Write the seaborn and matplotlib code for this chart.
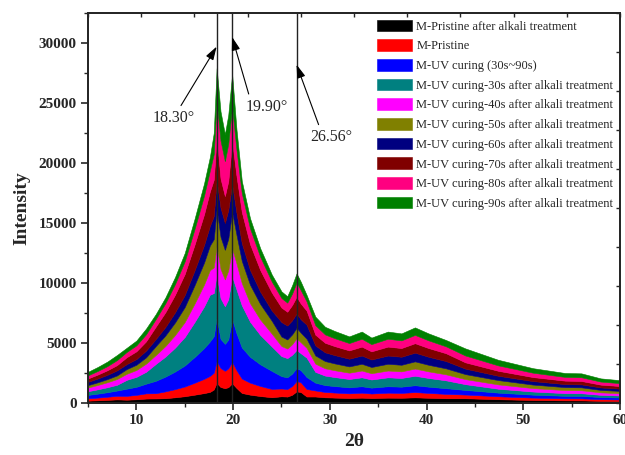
import numpy as np
import pandas as pd
import matplotlib
matplotlib.use("Agg")
import matplotlib.pyplot as plt
import seaborn as sns

# ---------------- data ----------------
two_theta = [5, 6, 7, 8, 9, 10, 11, 12, 13, 14, 15, 16, 17, 17.6, 18.0, 18.3, 18.7, 19.15, 19.5, 19.9,
             20.35, 20.9, 21.75, 22.8, 24, 25, 25.6, 26.1, 26.56, 27.0, 27.6, 28.5, 29.5, 30.5, 32, 33.3,
             34.3, 36, 37.4, 38.8, 40.2, 42, 44, 47.4, 51, 54.3, 56, 58, 60]

pristine_alkali = [195, 225, 260, 300, 275, 310, 370, 380, 400, 475, 565, 690, 825, 925, 1125, 1675, 1335, 1230, 1320, 1645,
                   1255, 835, 695, 580, 480, 560, 535, 685, 970, 910, 540, 540, 475, 450, 415, 445, 410, 445, 435, 470,
                   435, 395, 395, 315, 250, 220, 215, 180, 165]
pristine = [195, 225, 260, 300, 320, 365, 435, 435, 570, 680, 810, 995, 1190, 1335, 1395, 1815, 1580, 1455, 1560, 1780,
            1480, 1200, 1000, 840, 695, 650, 625, 735, 865, 810, 630, 505, 445, 420, 390, 415, 380, 415, 405, 440,
            405, 365, 310, 245, 200, 170, 170, 140, 130]
uv_curing = [285, 330, 380, 440, 600, 675, 805, 1035, 1230, 1470, 1750, 2140, 2560, 2870, 3040, 3625, 2430, 2240, 2400, 3560,
             3080, 2590, 2155, 1805, 1500, 1025, 980, 1030, 1080, 1010, 990, 650, 570, 540, 500, 535, 490, 535, 520, 570,
             520, 475, 385, 305, 245, 210, 210, 175, 160]
uv30 = [310, 360, 415, 480, 735, 830, 990, 1405, 1670, 1995, 2375, 2905, 3475, 3895, 3600, 3625, 3400, 3135, 3360, 3560,
        3650, 3515, 2925, 2450, 2035, 1675, 1600, 1570, 1510, 1415, 1620, 900, 795, 750, 695, 745, 680, 745, 725, 790,
        725, 655, 480, 325, 260, 225, 220, 185, 170]
uv40 = [310, 360, 415, 480, 505, 570, 680, 740, 880, 1050, 1250, 1530, 1830, 2050, 2140, 2370, 2430, 2240, 2400, 2330,
        2165, 1850, 1540, 1290, 1070, 835, 800, 880, 970, 910, 810, 685, 605, 570, 525, 565, 520, 565, 550, 600,
        550, 500, 420, 360, 290, 250, 245, 205, 190]
uv50 = [195, 225, 260, 300, 390, 440, 525, 740, 880, 1050, 1250, 1530, 1830, 2050, 2360, 3070, 2675, 2465, 2640, 3015,
        2395, 1850, 1540, 1290, 1070, 790, 755, 815, 865, 805, 765, 685, 605, 570, 525, 565, 520, 565, 550, 600,
        550, 500, 420, 360, 290, 250, 245, 205, 190]
uv60 = [275, 315, 360, 420, 415, 470, 560, 590, 705, 840, 1000, 1225, 1465, 1640, 1910, 2370, 2430, 2240, 2400, 2330,
        1825, 1480, 1230, 1030, 855, 1210, 1155, 1175, 1190, 1110, 1170, 830, 730, 690, 640, 685, 625, 685, 670, 725,
        670, 605, 455, 360, 290, 250, 245, 205, 190]
uv70 = [285, 330, 380, 440, 575, 650, 775, 1035, 1230, 1470, 1750, 2140, 2560, 2870, 3040, 3625, 2430, 2240, 2400, 3560,
        3080, 2590, 2155, 1805, 1500, 1210, 1155, 1275, 1405, 1315, 1170, 900, 795, 750, 695, 745, 680, 745, 725, 790,
        725, 655, 525, 415, 335, 290, 285, 235, 220]
uv80 = [260, 300, 345, 420, 440, 495, 590, 630, 750, 890, 1060, 1300, 1555, 1740, 2135, 2930, 3160, 2910, 3120, 2875,
        2165, 1570, 1310, 1100, 910, 790, 760, 950, 1190, 1110, 765, 790, 695, 660, 610, 655, 600, 655, 640, 690,
        640, 575, 570, 450, 365, 310, 310, 255, 240]
uv90 = [290, 330, 375, 420, 345, 395, 470, 410, 485, 580, 690, 845, 1010, 1125, 1755, 2795, 2430, 2245, 2400, 2745,
        1705, 1020, 850, 710, 585, 555, 535, 685, 755, 705, 540, 715, 635, 600, 555, 595, 545, 595, 580, 625,
        580, 525, 590, 465, 375, 325, 325, 265, 245]

labels = ["M-Pristine after alkali treatment", "M-Pristine", "M-UV curing (30s~90s)",
          "M-UV curing-30s after alkali treatment", "M-UV curing-40s after alkali treatment",
          "M-UV curing-50s after alkali treatment", "M-UV curing-60s after alkali treatment",
          "M-UV curing-70s after alkali treatment", "M-UV curing-80s after alkali treatment",
          "M-UV curing-90s after alkali treatment"]
colors = ["#000000", "#FF0000", "#0000FF", "#008080", "#FF00FF",
          "#808000", "#000080", "#800000", "#FF0080", "#008000"]

peak_positions = [18.30, 19.90, 26.56]
peak_labels = ["18.30°", "19.90°", "26.56°"]
x_ticks = [10, 20, 30, 40, 50, 60]
y_ticks = [0, 5000, 10000, 15000, 20000, 25000, 30000]

series = [pristine_alkali, pristine, uv_curing, uv30, uv40, uv50, uv60, uv70, uv80, uv90]
df = pd.DataFrame({"two_theta": two_theta, **{lab: s for lab, s in zip(labels, series)}})

# ---------------- style ----------------
sns.set_style("ticks")
plt.rcParams["font.family"] = ["Liberation Serif", "DejaVu Serif"]
plt.rcParams["axes.linewidth"] = 1.2
plt.rcParams["xtick.major.width"] = 1.2
plt.rcParams["ytick.major.width"] = 1.2
plt.rcParams["xtick.minor.width"] = 1.0
plt.rcParams["ytick.minor.width"] = 1.0

fig = plt.figure(figsize=(6.25, 4.55), dpi=100)
ax = fig.add_axes([0.1408, 0.1143, 0.8512, 0.8571])

polys = ax.stackplot(df["two_theta"], *[df[l] for l in labels], colors=colors, labels=labels)
for pc, c in zip(polys, colors):
    pc.set_edgecolor(c)
    pc.set_linewidth(0.4)

ax.set_xlim(5, 60)
ax.set_ylim(0, 32500)

for xp in peak_positions:
    ax.axvline(xp, color="#222222", lw=1.0, zorder=5)

ann = [((18.30, 29700), (13.9, 23750), (0.6, 1.0)),
       ((19.90, 30500), (23.5, 24700), (0.1, 1.0)),
       ((26.56, 28200), (30.1, 22150), (0.25, 1.0))]
for lab, (xy, xt, rp) in zip(peak_labels, ann):
    ax.annotate(lab, xy=xy, xytext=xt, ha="center", va="center", fontsize=11.5,
                arrowprops=dict(arrowstyle="-|>,head_length=0.7,head_width=0.22", color="black",
                                lw=0.8, relpos=rp, shrinkA=1, shrinkB=0), zorder=6)

ax.set_xticks(x_ticks)
ax.set_xticks(np.arange(5, 61, 5), minor=True)
ax.set_yticks(y_ticks)
ax.set_yticks(np.arange(0, 32501, 2500), minor=True)
ax.tick_params(axis="both", which="major", direction="out", length=5, labelsize=11, pad=3)
ax.tick_params(axis="both", which="minor", direction="out", length=3)
for t in ax.get_xticklabels() + ax.get_yticklabels():
    t.set_fontweight("bold")

ax.set_xlabel("2θ", fontsize=14, fontweight="bold", labelpad=4)
ax.set_ylabel("Intensity", fontsize=14, fontweight="bold", labelpad=6)

# top / right inward ticks
axt = ax.twiny()
axt.set_xlim(5, 60)
axt.set_xticks(np.linspace(5, 60, 11))
axt.tick_params(axis="x", direction="in", length=3, labeltop=False, width=1.0)
axr = ax.twinx()
axr.set_ylim(0, 32500)
axr.set_yticks(np.linspace(0, 32500, 11))
axr.tick_params(axis="y", direction="in", length=3, labelright=False, width=1.0)

leg = ax.legend(loc="upper left", bbox_to_anchor=(0.543, 0.983), frameon=False, fontsize=9,
                handlelength=2.8, handleheight=1.05, handletextpad=0.35, labelspacing=0.53,
                borderpad=0, borderaxespad=0)

fig.savefig("out.png", dpi=100)
